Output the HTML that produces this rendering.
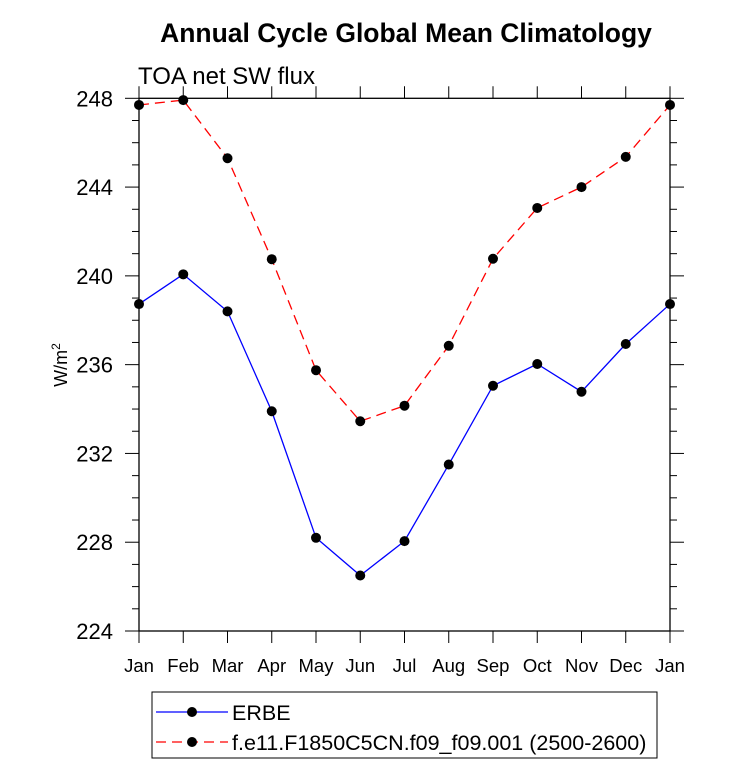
<!DOCTYPE html>
<html><head><meta charset="utf-8"><style>body{margin:0;background:#fff}svg text{font-family:"Liberation Sans",Arial,sans-serif}</style></head>
<body>
<svg id="chart" width="733" height="769">
<text x="406" y="42" text-anchor="middle" font-size="26.5" font-weight="bold">Annual Cycle Global Mean Climatology</text>
<text x="138" y="84" font-size="24">TOA net SW flux</text>
<g id="axes"></g><g id="series"></g>
<g>
<rect x="152" y="692" width="505" height="66" fill="none" stroke="#000" stroke-width="1"/>
<line x1="156" y1="712" x2="228" y2="712" stroke="#00f" stroke-width="1.3"/>
<circle cx="192" cy="712" r="5" fill="#000"/>
<text x="232" y="720" font-size="21.5">ERBE</text>
<line x1="156" y1="742" x2="228" y2="742" stroke="#f00" stroke-width="1.3" stroke-dasharray="10,6"/>
<circle cx="192" cy="742" r="5" fill="#000"/>
<text x="232" y="750" font-size="21.5">f.e11.F1850C5CN.f09_f09.001 (2500-2600)</text>
</g>
</svg>
<script>
const months=["Jan","Feb","Mar","Apr","May","Jun","Jul","Aug","Sep","Oct","Nov","Dec","Jan"];
const erbe=[238.73,240.07,238.4,233.9,228.2,226.5,228.05,231.5,235.05,236.03,234.78,236.93,238.73];
const model=[247.7,247.92,245.3,240.75,235.75,233.45,234.15,236.85,240.77,243.06,244.0,245.36,247.7];
const yTicks=[224,228,232,236,240,244,248];
const L=139,R=670,T=98.3,B=631,ymin=224,ymax=248;
const xs=i=>L+(R-L)*i/(months.length-1);
const ys=v=>B-(B-T)*(v-ymin)/(ymax-ymin);
const NS="http://www.w3.org/2000/svg";
function mk(t,a,p){const e=document.createElementNS(NS,t);for(const k in a)e.setAttribute(k,a[k]);p.appendChild(e);return e;}
const ax=document.getElementById('axes');
const fr=mk('rect',{x:L,y:T,width:R-L,height:B-T,fill:'none',stroke:'#000','stroke-width':1.3},ax);


months.forEach((m,i)=>{const x=xs(i);
mk('line',{x1:x,y1:B,x2:x,y2:B+12,stroke:'#000'},ax);
mk('line',{x1:x,y1:T,x2:x,y2:T-12,stroke:'#000'},ax);
const t=mk('text',{x:x,y:B+41,'text-anchor':'middle','font-size':18.5},ax);t.textContent=m;

});
for(let v=ymin;v<=ymax;v++){const y=ys(v);const maj=(v-ymin)%4===0;const len=maj?14:7;
mk('line',{x1:L,y1:y,x2:L-len,y2:y,stroke:'#000'},ax);
mk('line',{x1:R,y1:y,x2:R+len,y2:y,stroke:'#000'},ax);}
yTicks.forEach(v=>{const t=mk('text',{x:113,y:ys(v)+8,'text-anchor':'end','font-size':22},ax);t.textContent=v;

});
const yl=mk('text',{transform:'translate(67,365) rotate(-90)','text-anchor':'middle','font-size':18},ax);
yl.innerHTML='W/m<tspan font-size="12" dy="-7">2</tspan>';


const sg=document.getElementById('series');
[[erbe,'#00f',null,'erbe'],[model,'#f00','10,6','model']].forEach(([d,c,da,n])=>{
const pl=mk('polyline',{points:d.map((v,i)=>xs(i)+','+ys(v)).join(' '),fill:'none',stroke:c,'stroke-width':1.3},sg);
if(da)pl.setAttribute('stroke-dasharray',da);


d.forEach((v,i)=>{const c2=mk('circle',{cx:xs(i),cy:ys(v),r:5,fill:'#000'},sg);

});});
</script>
</body></html>
